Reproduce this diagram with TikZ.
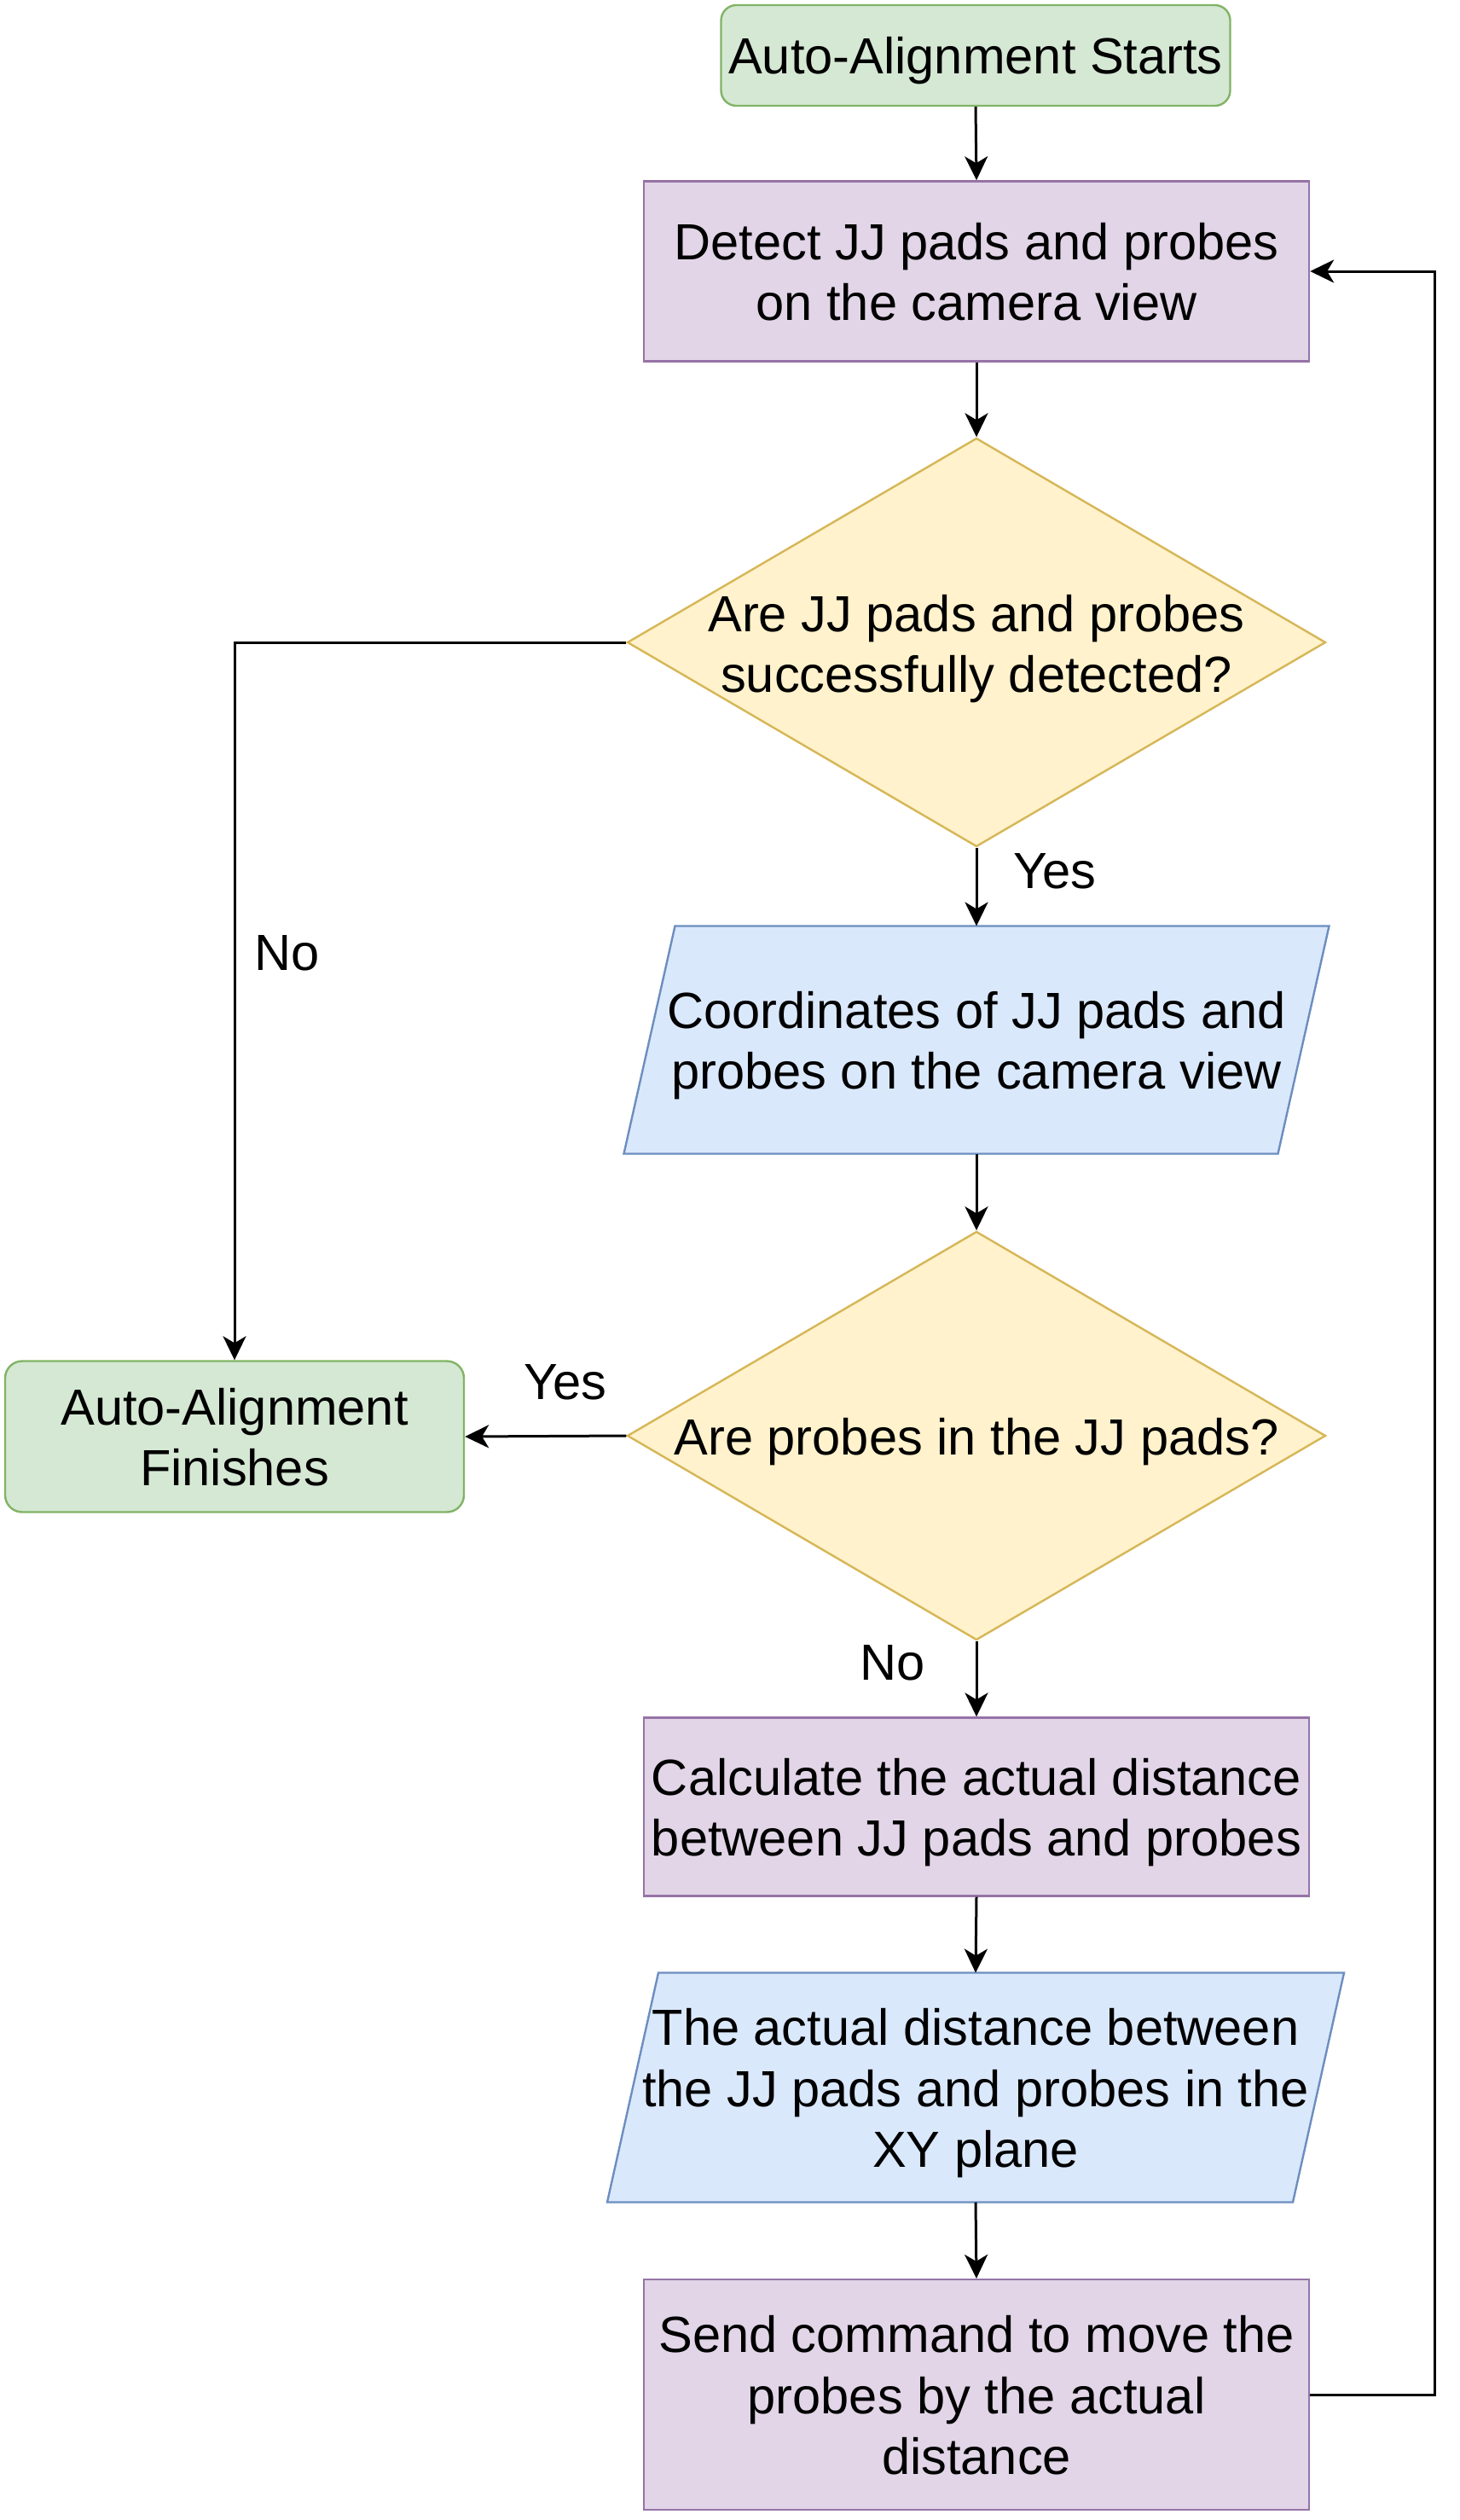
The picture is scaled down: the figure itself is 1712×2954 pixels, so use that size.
\documentclass[tikz,border=0pt]{standalone}
\usepackage{fontspec}
\setmainfont{Liberation Sans}
\usetikzlibrary{arrows.meta,shapes.geometric,calc}
\pgfdeclarelayer{background}
\pgfsetlayers{background,main}
\definecolor{gfill}{HTML}{D5E8D4}\definecolor{gline}{HTML}{82B366}
\definecolor{pfill}{HTML}{E1D5E7}\definecolor{pline}{HTML}{9673A6}
\definecolor{yfill}{HTML}{FFF2CC}\definecolor{yline}{HTML}{D6B656}
\definecolor{bfill}{HTML}{DAE8FC}\definecolor{bline}{HTML}{6C8EBF}
\newcommand{\tst}{\rule[-6.5pt]{0pt}{35pt}}
\begin{document}
\begin{tikzpicture}[x=0.5pt,y=-0.5pt,
  every node/.style={font=\fontsize{29.8}{35.85}\selectfont, inner sep=0pt},
  term/.style={draw=gline, fill=gfill, rounded corners=9pt, line width=1.2pt, align=center},
  proc/.style={draw=pline, fill=pfill, line width=1.2pt, minimum width=390pt, align=center},
  dia/.style={diamond, draw=yline, fill=yfill, line width=1.2pt, minimum width=409.5pt, minimum height=239.5pt, inner sep=0pt},
  io/.style={align=center, outer sep=0pt},
  iofill/.style={draw=bline, fill=bfill, line width=1.2pt},
  arr/.style={-{Stealth[length=14pt,width=13.5pt,inset=4pt]}, line width=1.5pt},
  lbl/.style={}]
\useasboundingbox (0,0) rectangle (1712,2954);

\node[term, minimum width=298.5pt, minimum height=59pt] (start) at (1144,65) {\tst Auto-Alignment Starts};
\node[proc, minimum height=105.5pt] (detect) at (1145,318) {\tst Detect JJ pads and probes\\on the camera view\tst};
\node[dia] (d1) at (1145,753) {};
\node[align=center] (d1t) at (1145,754) {\tst Are JJ pads and probes\\successfully detected?\tst};
\node[io, minimum width=383.5pt, minimum height=133.5pt] (p1) at (1145,1219) {\tst Coordinates of JJ pads and\\probes on the camera view\tst};
\node[dia] (d2) at (1145,1683) {};
\node[align=center] (d2t) at (1145,1683) {\tst Are probes in the JJ pads?};
\node[term, rounded corners=10pt, minimum width=269pt, minimum height=88.5pt] (fin) at (275,1684) {\tst Auto-Alignment\\Finishes\tst};
\node[proc, minimum height=104.5pt] (calc) at (1145,2118) {\tst Calculate the actual distance\\between JJ pads and probes\tst};
\node[io, minimum width=402pt, minimum height=134.5pt] (p2) at (1144,2447) {\tst The actual distance between\\the JJ pads and probes in the\\XY plane\tst};
\node[proc, minimum height=135pt] (send) at (1145,2807) {\tst Send command to move the\\probes by the actual\\distance\tst};

\begin{pgfonlayer}{background}
\filldraw[iofill] ($(p1.north west)+(30,0)$) -- ($(p1.north east)+(30,0)$) -- ($(p1.south east)+(-30,0)$) -- ($(p1.south west)+(-30,0)$) -- cycle;
\filldraw[iofill] ($(p2.north west)+(30,0)$) -- ($(p2.north east)+(30,0)$) -- ($(p2.south east)+(-30,0)$) -- ($(p2.south west)+(-30,0)$) -- cycle;
\end{pgfonlayer}

\coordinate (loopx) at (1682,0);

\draw[arr] (start.south) -- (detect.north);
\draw[arr] (detect.south) -- (d1.north);
\draw[arr] (d1.south) -- (p1.north);
\draw[arr] (p1.south) -- (d2.north);
\draw[arr] (d2.south) -- (calc.north);
\draw[arr] (calc.south) -- (p2.north);
\draw[arr] (p2.south) -- (send.north);
\draw[arr] (d1.west) -| (fin.north);
\draw[arr] (d2.west) -- (fin.east);
\draw[arr] (send.east) -- (send.east -| loopx) |- (detect.east);

\node[lbl] (yes1) at (1237,1021) {Yes};
\node[lbl] (no1) at (337,1117) {No};
\node[lbl] (yes2) at (663,1620) {Yes};
\node[lbl] (no2) at (1047,1949) {No};
\end{tikzpicture}
\end{document}
